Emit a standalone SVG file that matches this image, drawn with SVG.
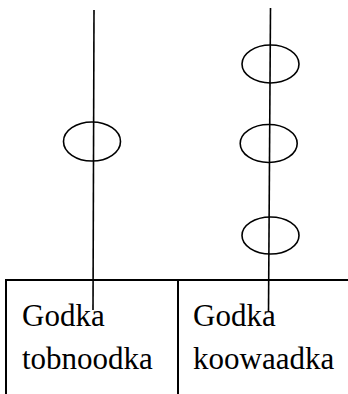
<svg xmlns="http://www.w3.org/2000/svg" width="348" height="394" viewBox="0 0 348 394">
<style>
.ln{stroke:#000;stroke-width:1.6;fill:none}
.bx{stroke:#000;stroke-width:2;fill:none}
.el{stroke:#000;stroke-width:1.6;fill:none}
.tx{font-family:"Liberation Serif","Times New Roman",serif;font-size:31px;fill:#000}
</style>
<rect width="348" height="394" fill="#fff"/>
<g id="table">
<line class="bx" x1="6" y1="280" x2="348" y2="280"/>
<line class="bx" x1="6" y1="279" x2="6" y2="394"/>
<line class="bx" x1="178" y1="280" x2="178" y2="394"/>
</g>
<g id="cell-left">
<text class="tx" x="22" y="326">Godka</text>
<text class="tx" x="22" y="369">tobnoodka</text>
</g>
<g id="cell-right">
<text class="tx" x="193" y="326">Godka</text>
<text class="tx" x="193" y="369">koowaadka</text>
</g>
<g id="connectors">
<line class="ln" x1="94" y1="10" x2="93" y2="310"/>
<line class="ln" x1="270.5" y1="8" x2="268.5" y2="311"/>
</g>
<g id="ellipse-left">
<ellipse class="el" cx="92" cy="141.5" rx="28.5" ry="19.5"/>
</g>
<g id="ellipse-right-1">
<ellipse class="el" cx="270.5" cy="64" rx="28.5" ry="19"/>
</g>
<g id="ellipse-right-2">
<ellipse class="el" cx="268.7" cy="143.5" rx="28.5" ry="19"/>
</g>
<g id="ellipse-right-3">
<ellipse class="el" cx="270.5" cy="235.5" rx="28.5" ry="18.5"/>
</g>
</svg>
